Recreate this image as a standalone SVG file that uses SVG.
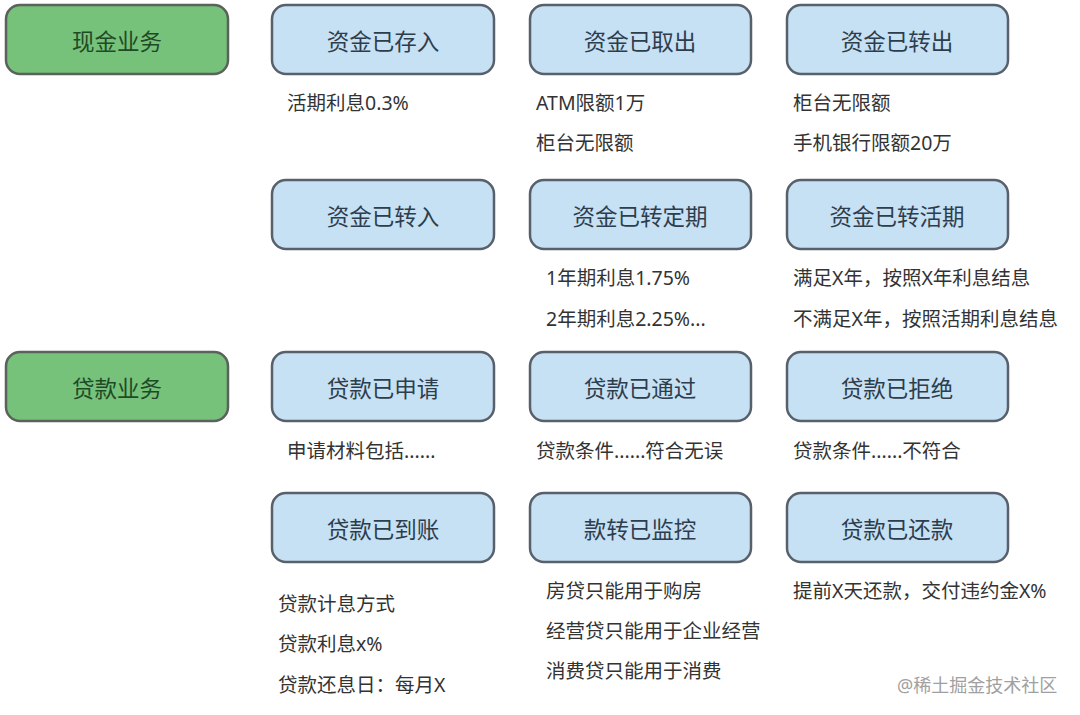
<svg xmlns="http://www.w3.org/2000/svg" width="1080" height="715" viewBox="0 0 1080 715">
<style>
.g{fill:#76c27b;stroke:#5a625b;stroke-width:2.5}
.b{fill:#c6e0f4;stroke:#58616b;stroke-width:2.5}
.nt{font-family:"Noto Sans CJK SC","Noto Sans",sans-serif;font-size:22.5px;text-anchor:middle;dominant-baseline:central}
.gt{fill:#1f4a25}
.bt{fill:#2e3d4c}
.l{font-family:"Noto Sans","Noto Sans CJK SC",sans-serif;font-size:19.5px;fill:#333333}
.w{font-family:"Noto Sans","Noto Sans CJK SC",sans-serif;font-size:18px;fill:#a0a0a0}
</style>
<rect width="1080" height="715" fill="#ffffff"/>
<g id="connectors"></g>
<g id="n-cash"><rect class="g" x="6" y="5" width="222" height="69" rx="14"/><text class="nt gt" x="117" y="40">现金业务</text></g>
<g id="n-deposit"><rect class="b" x="272" y="5" width="222" height="69" rx="14"/><text class="nt bt" x="383" y="40">资金已存入</text></g>
<g id="n-withdraw"><rect class="b" x="530" y="5" width="221" height="69" rx="14"/><text class="nt bt" x="640" y="40">资金已取出</text></g>
<g id="n-transferout"><rect class="b" x="787" y="5" width="221" height="69" rx="14"/><text class="nt bt" x="897" y="40">资金已转出</text></g>
<g id="n-transferin"><rect class="b" x="272" y="180" width="222" height="69" rx="14"/><text class="nt bt" x="383" y="215">资金已转入</text></g>
<g id="n-fixed"><rect class="b" x="530" y="180" width="221" height="69" rx="14"/><text class="nt bt" x="640" y="215">资金已转定期</text></g>
<g id="n-current"><rect class="b" x="787" y="180" width="221" height="69" rx="14"/><text class="nt bt" x="897" y="215">资金已转活期</text></g>
<g id="n-loan"><rect class="g" x="6" y="352" width="222" height="69" rx="14"/><text class="nt gt" x="117" y="387">贷款业务</text></g>
<g id="n-apply"><rect class="b" x="272" y="352" width="222" height="69" rx="14"/><text class="nt bt" x="383" y="387">贷款已申请</text></g>
<g id="n-approved"><rect class="b" x="530" y="352" width="221" height="69" rx="14"/><text class="nt bt" x="640" y="387">贷款已通过</text></g>
<g id="n-rejected"><rect class="b" x="787" y="352" width="221" height="69" rx="14"/><text class="nt bt" x="897" y="387">贷款已拒绝</text></g>
<g id="n-arrived"><rect class="b" x="272" y="493" width="222" height="69" rx="14"/><text class="nt bt" x="383" y="528">贷款已到账</text></g>
<g id="n-monitor"><rect class="b" x="530" y="493" width="221" height="69" rx="14"/><text class="nt bt" x="640" y="528">款转已监控</text></g>
<g id="n-repaid"><rect class="b" x="787" y="493" width="221" height="69" rx="14"/><text class="nt bt" x="897" y="528">贷款已还款</text></g>
<g id="labels">
<text class="l" x="287" y="110">活期利息0.3%</text>
<text class="l" x="536" y="110">ATM限额1万</text>
<text class="l" x="536" y="150">柜台无限额</text>
<text class="l" x="793" y="110">柜台无限额</text>
<text class="l" x="793" y="150">手机银行限额20万</text>
<text class="l" x="546" y="285">1年期利息1.75%</text>
<text class="l" x="546" y="326">2年期利息2.25%...</text>
<text class="l" x="793" y="285">满足X年，按照X年利息结息</text>
<text class="l" x="793" y="326">不满足X年，按照活期利息结息</text>
<text class="l" x="287" y="458">申请材料包括......</text>
<text class="l" x="536" y="458">贷款条件......符合无误</text>
<text class="l" x="793" y="458">贷款条件......不符合</text>
<text class="l" x="278" y="611">贷款计息方式</text>
<text class="l" x="278" y="651">贷款利息x%</text>
<text class="l" x="278" y="692">贷款还息日：每月X</text>
<text class="l" x="546" y="598">房贷只能用于购房</text>
<text class="l" x="546" y="638">经营贷只能用于企业经营</text>
<text class="l" x="546" y="678">消费贷只能用于消费</text>
<text class="l" x="793" y="598">提前X天还款，交付违约金X%</text>
<text class="w" x="897" y="692">@稀土掘金技术社区</text>
</g>
</svg>
